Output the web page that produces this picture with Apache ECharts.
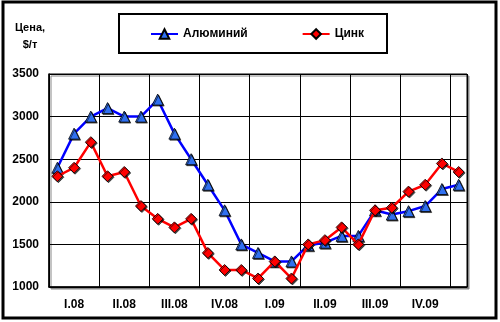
<!DOCTYPE html>
<html lang="ru">
<head>
<meta charset="UTF-8">
<title>Цены на алюминий и цинк</title>
<style>
    * { margin: 0; padding: 0; }
    body, html { width: 100%; height: 100%; background: #fff; }
    #main { width: 500px; height: 322px; }
</style>
</head>
<body>
<div id="main"></div>
<script src="https://cdn.jsdelivr.net/npm/echarts@6/dist/echarts.min.js"></script>
<script>
// месяцы: янв.2008 - янв.2010
var months = ['01.08','02.08','03.08','04.08','05.08','06.08','07.08','08.08','09.08','10.08','11.08','12.08',
              '01.09','02.09','03.09','04.09','05.09','06.09','07.09','08.09','09.09','10.09','11.09','12.09','01.10'];
var quarterLabels = ['I.08', 'II.08', 'III.08', 'IV.08', 'I.09', 'II.09', 'III.09', 'IV.09'];
var aluminium = [2400, 2800, 3000, 3100, 3000, 3000, 3200, 2800, 2500, 2200, 1900, 1500,
                 1400, 1300, 1300, 1490, 1520, 1600, 1600, 1900, 1850, 1890, 1950, 2150, 2200];
var zinc = [2300, 2400, 2700, 2300, 2350, 1950, 1800, 1700, 1800, 1400, 1200, 1200,
            1100, 1300, 1100, 1500, 1550, 1700, 1500, 1900, 1930, 2120, 2200, 2450, 2350];

var myChart = echarts.init(document.getElementById('main'));

var font = 'Arial, "Liberation Sans", sans-serif';

var option = {
    backgroundColor: '#fff',
    animation: false,
    textStyle: { fontFamily: font },
    graphic: [
        // внешняя рамка
        { type: 'rect', shape: { x: 3, y: 2, width: 493, height: 316 },
          style: { fill: 'none', stroke: '#000', lineWidth: 3 } },
        // рамка легенды
        { type: 'rect', shape: { x: 119, y: 14, width: 268, height: 39 },
          style: { fill: '#fff', stroke: '#000', lineWidth: 2 }, z: -1 },
        { type: 'text', x: 30, y: 19,
          style: { text: 'Цена,\n$/т', font: 'bold 11px ' + font, fill: '#000',
                   align: 'center', lineHeight: 17 } }
    ],
    legend: {
        left: 145,
        top: 23,
        itemGap: 54,
        itemWidth: 27,
        itemHeight: 12,
        textStyle: { fontWeight: 'bold', fontSize: 12, color: '#000', fontFamily: font },
        data: ['Алюминий', 'Цинк']
    },
    grid: {
        left: 49, right: 33, top: 74, bottom: 35,
        show: true,
        borderColor: '#000',
        borderWidth: 1,
        backgroundColor: '#fff',
        shadowColor: '#888',
        shadowOffsetX: 2,
        shadowOffsetY: 2,
        shadowBlur: 0
    },
    xAxis: {
        type: 'category',
        boundaryGap: true,
        data: months,
        axisLine: { lineStyle: { color: '#000', width: 1.5 } },
        axisTick: { show: false },
        splitLine: {
            show: true,
            interval: function (i) { return i % 3 === 0; },
            lineStyle: { color: '#000', width: 1 }
        },
        axisLabel: {
            interval: function (i) { return i % 3 === 1; },
            formatter: function (v, i) { return quarterLabels[Math.floor(i / 3)] || ''; },
            color: '#000',
            fontWeight: 'bold',
            fontSize: 12,
            fontFamily: font,
            margin: 12
        }
    },
    yAxis: {
        type: 'value',
        min: 1000,
        max: 3500,
        interval: 500,
        axisLine: { show: true, lineStyle: { color: '#000', width: 1.5 } },
        axisTick: { show: false },
        splitLine: { lineStyle: { color: '#000', width: 1 } },
        axisLabel: { color: '#000', fontWeight: 'bold', fontSize: 12, fontFamily: font, margin: 10,
                     formatter: function (v) { return String(v); } }
    },
    series: [
        {
            name: 'Алюминий',
            type: 'line',
            data: aluminium,
            symbol: 'triangle',
            symbolSize: 11,
            lineStyle: { color: '#0000ff', width: 2.5 },
            itemStyle: { color: '#3070f0', borderColor: '#000', borderWidth: 0.8,
                         shadowColor: 'rgba(0,0,0,0.7)', shadowOffsetX: 1, shadowOffsetY: 1 },
            z: 3
        },
        {
            name: 'Цинк',
            type: 'line',
            data: zinc,
            symbol: 'diamond',
            symbolSize: 11,
            lineStyle: { color: '#ff0000', width: 2.5 },
            itemStyle: { color: '#ff0000', borderColor: '#000', borderWidth: 0.8,
                         shadowColor: 'rgba(0,0,0,0.7)', shadowOffsetX: 1, shadowOffsetY: 1 },
            z: 4
        }
    ]
};

myChart.setOption(option);
</script>
</body>
</html>
